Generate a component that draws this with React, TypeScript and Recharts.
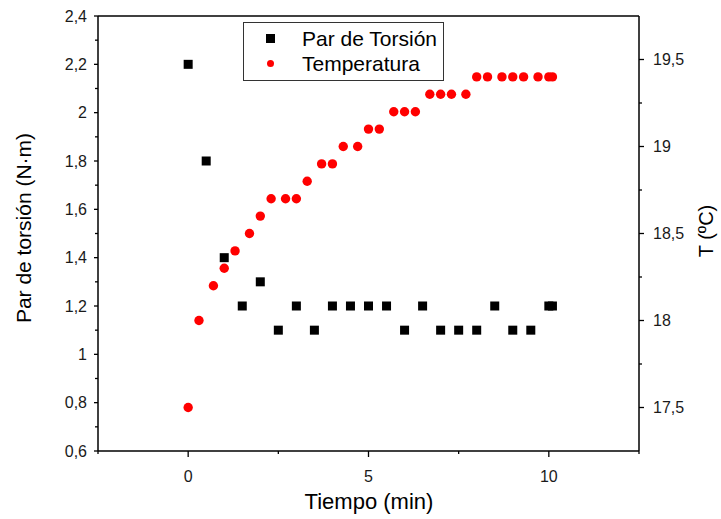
import { ScatterChart, Scatter, XAxis, YAxis, ReferenceLine, Legend } from "recharts";

const FONT = "'Liberation Sans', Arial, sans-serif";

// Par de torsión (N·m) vs tiempo (min)
const torqueTime = [0, 0.5, 1, 1.5, 2, 2.5, 3, 3.5, 4, 4.5, 5, 5.5, 6, 6.5, 7, 7.5, 8, 8.5, 9, 9.5, 10, 10.1];
const torqueValues = [2.2, 1.8, 1.4, 1.2, 1.3, 1.1, 1.2, 1.1, 1.2, 1.2, 1.2, 1.2, 1.1, 1.2, 1.1, 1.1, 1.1, 1.2, 1.1, 1.1, 1.2, 1.2];

// Temperatura (ºC) vs tiempo (min)
const tempTime = [0, 0.3, 0.7, 1, 1.3, 1.7, 2, 2.3, 2.7, 3, 3.3, 3.7, 4, 4.3, 4.7, 5, 5.3, 5.7, 6, 6.3, 6.7, 7, 7.3, 7.7, 8, 8.3, 8.7, 9, 9.3, 9.7, 10, 10.1];
const tempValues = [17.5, 18.0, 18.2, 18.3, 18.4, 18.5, 18.6, 18.7, 18.7, 18.7, 18.8, 18.9, 18.9, 19.0, 19.0, 19.1, 19.1, 19.2, 19.2, 19.2, 19.3, 19.3, 19.3, 19.3, 19.4, 19.4, 19.4, 19.4, 19.4, 19.4, 19.4, 19.4];

// ticks
const xMajor = [0, 5, 10];
const xMinor = [-2.5, 2.5, 7.5, 12.5];
const leftMajor = [0.6, 0.8, 1, 1.2, 1.4, 1.6, 1.8, 2, 2.2, 2.4];
const leftMinor = [0.7, 0.9, 1.1, 1.3, 1.5, 1.7, 1.9, 2.1, 2.3];
const rightMajor = [17.5, 18, 18.5, 19, 19.5];
const rightMinor = [17.75, 18.25, 18.75, 19.25];

const torqueData = torqueTime.map((t, i) => ({ t, v: torqueValues[i] }));
const tempData = tempTime.map((t, i) => ({ t, v: tempValues[i] }));

const sortNum = (a: number[]) => [...a].sort((p, q) => p - q);
const fmt = (v: number) => String(v).replace(".", ",");

const LeftTick = ({ x, y, payload }: any) => {
  const major = leftMajor.includes(payload.value);
  return (
    <g>
      <line x1={x} x2={x - (major ? 4 : 3)} y1={y} y2={y} stroke="#000" strokeWidth={1.3} />
      {major && (
        <text x={x - 11} y={y} dy="0.35em" textAnchor="end" fontSize={16} fill="#1a1a1a" fontFamily={FONT}>
          {fmt(payload.value)}
        </text>
      )}
    </g>
  );
};

const RightTick = ({ x, y, payload }: any) => {
  const major = rightMajor.includes(payload.value);
  return (
    <g>
      <line x1={x} x2={x + (major ? 5 : 3)} y1={y} y2={y} stroke="#000" strokeWidth={1.3} />
      {major && (
        <text x={x + 14} y={y} dy="0.35em" textAnchor="start" fontSize={16} fill="#1a1a1a" fontFamily={FONT}>
          {fmt(payload.value)}
        </text>
      )}
    </g>
  );
};

const BottomTick = ({ x, y, payload }: any) => {
  const major = xMajor.includes(payload.value);
  return (
    <g>
      <line x1={x} x2={x} y1={y} y2={y + (major ? 6 : 3)} stroke="#000" strokeWidth={1.3} />
      {major && (
        <text x={x} y={y + 25} dy="0.35em" textAnchor="middle" fontSize={16} fill="#1a1a1a" fontFamily={FONT}>
          {fmt(payload.value)}
        </text>
      )}
    </g>
  );
};

const Square = ({ cx, cy }: any) => <rect x={cx - 4.5} y={cy - 4.5} width={9} height={9} fill="#000" />;
const Dot = ({ cx, cy }: any) => <circle cx={cx} cy={cy} r={4.7} fill="#ff0000" />;

const LegendBox = ({ payload }: any) => (
  <div
    style={{
      border: "1px solid #333",
      background: "#fff",
      width: 199,
      height: 54,
      paddingTop: 3,
      boxSizing: "content-box",
      fontFamily: FONT,
      fontSize: 21,
      color: "#000",
    }}
  >
    {(payload || []).map((p: any) => (
      <div key={p.value} style={{ display: "flex", alignItems: "center", height: 25 }}>
        <div style={{ width: 53, display: "flex", justifyContent: "center" }}>
          {p.value === "Par de Torsión" ? (
            <div style={{ width: 9, height: 9, background: "#000" }} />
          ) : (
            <div style={{ width: 7, height: 7, borderRadius: "50%", background: "#ff0000" }} />
          )}
        </div>
        <span style={{ marginLeft: 5, lineHeight: "25px" }}>{p.value}</span>
      </div>
    ))}
  </div>
);

const LeftTitle = () => (
  <text
    x={24}
    y={228}
    transform="rotate(-90 24 228)"
    textAnchor="middle"
    dy="0.35em"
    fontSize={21}
    fill="#000"
    fontFamily={FONT}
  >
    Par de torsión (N·m)
  </text>
);

const RightTitle = () => (
  <text
    x={706}
    y={231}
    transform="rotate(-90 706 231)"
    textAnchor="middle"
    dy="0.35em"
    fontSize={20}
    fill="#000"
    fontFamily={FONT}
  >
    T (ºC)
  </text>
);

const BottomTitle = () => (
  <text x={369} y={509} textAnchor="middle" fontSize={22} fill="#000" fontFamily={FONT}>
    Tiempo (min)
  </text>
);

export default function App() {
  return (
    <div style={{ position: "absolute", left: 0, top: 0, width: 721, height: 519, background: "#fff" }}>
      <ScatterChart width={721} height={519} margin={{ top: 16, right: 22, bottom: 28, left: 28 }}>
        <XAxis
          type="number"
          dataKey="t"
          domain={[-2.5, 12.5]}
          ticks={sortNum([...xMajor, ...xMinor])}
          interval={0}
          height={40}
          allowDataOverflow
          axisLine={{ stroke: "#000", strokeWidth: 1.5 }}
          tickLine={false}
          tickSize={0}
          tickMargin={0}
          tick={<BottomTick />}
          label={<BottomTitle />}
        />
        <YAxis
          yAxisId="left"
          type="number"
          dataKey="v"
          domain={[0.6, 2.4]}
          ticks={sortNum([...leftMajor, ...leftMinor])}
          interval={0}
          width={70}
          allowDataOverflow
          axisLine={{ stroke: "#000", strokeWidth: 1.5 }}
          tickLine={false}
          tickSize={0}
          tickMargin={0}
          tick={<LeftTick />}
          label={<LeftTitle />}
        />
        <YAxis
          yAxisId="right"
          orientation="right"
          type="number"
          dataKey="v"
          domain={[17.25, 19.75]}
          ticks={sortNum([...rightMajor, ...rightMinor])}
          interval={0}
          width={60}
          allowDataOverflow
          axisLine={{ stroke: "#000", strokeWidth: 1.5 }}
          tickLine={false}
          tickSize={0}
          tickMargin={0}
          tick={<RightTick />}
          label={<RightTitle />}
        />
        <ReferenceLine yAxisId="left" y={2.4} stroke="#000" strokeWidth={1.5} />
        <Legend
          layout="vertical"
          align="center"
          verticalAlign="middle"
          content={<LegendBox />}
          wrapperStyle={{ left: 243, top: 22, width: 201, height: 58 }}
        />
        <Scatter
          name="Par de Torsión"
          yAxisId="left"
          data={torqueData}
          fill="#000"
          shape={<Square />}
          isAnimationActive={false}
        />
        <Scatter
          name="Temperatura"
          yAxisId="right"
          data={tempData}
          fill="#ff0000"
          shape={<Dot />}
          isAnimationActive={false}
        />
      </ScatterChart>
    </div>
  );
}
